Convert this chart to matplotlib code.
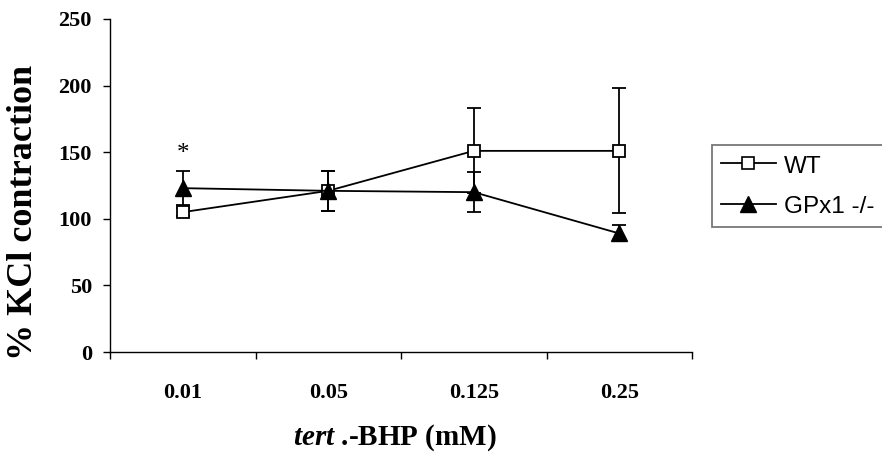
import matplotlib
matplotlib.use("Agg")
import matplotlib.pyplot as plt
from matplotlib.lines import Line2D
import numpy as np

# Data: % KCl contraction vs tert.-BHP concentration
concentrations = ["0.01", "0.05", "0.125", "0.25"]
wt_mean = [105, 121, 151, 151]
wt_err = [3, 15, 32, 47]
gpx_mean = [123, 121, 120, 89]
gpx_err = [13, 15, 15, 6]
y_ticks = [0, 50, 100, 150, 200, 250]

serif = ["Liberation Serif", "DejaVu Serif"]
sans = ["Liberation Sans", "DejaVu Sans"]

plt.rcParams["mathtext.fontset"] = "custom"
plt.rcParams["mathtext.it"] = "Liberation Serif:italic:bold"
plt.rcParams["mathtext.rm"] = "Liberation Serif:bold"
plt.rcParams["mathtext.bf"] = "Liberation Serif:bold"

fig = plt.figure(figsize=(8.82, 4.57), dpi=100)
ax = fig.add_axes([110 / 882, 1 - 352 / 457, (692 - 110) / 882, (352 - 19) / 457])

x = np.arange(len(concentrations))

ax.errorbar(x, wt_mean, yerr=wt_err, color="black", lw=1.3, marker="s",
            markersize=9, markerfacecolor="white", markeredgecolor="black",
            markeredgewidth=1.3, capsize=5, capthick=1.3, elinewidth=1.3,
            zorder=3)
ax.errorbar(x, gpx_mean, yerr=gpx_err, color="black", lw=1.3, marker="^",
            markersize=12, markerfacecolor="black", markeredgecolor="black",
            capsize=5, capthick=1.3, elinewidth=1.3, zorder=3)

# significance marker
ax.text(x[0], gpx_mean[0] + gpx_err[0] + 13, "*", ha="center", va="center",
        fontsize=18, family=serif)

ax.set_xlim(-0.5, len(concentrations) - 0.5)
ax.set_ylim(0, 250)
ax.set_yticks(y_ticks)
ax.set_yticklabels([str(v) for v in y_ticks], family=serif, fontweight="bold",
                   fontsize=16)
ax.set_xticks(x)
ax.set_xticklabels(concentrations, family=serif, fontweight="bold", fontsize=16)
ax.set_xticks(np.arange(-0.5, len(concentrations)), minor=True)
ax.tick_params(axis="x", which="major", length=0, pad=22)
ax.tick_params(axis="x", which="minor", length=5, width=1, direction="out")
ax.tick_params(axis="y", length=5, width=1, direction="out", pad=8)

for side in ("top", "right"):
    ax.spines[side].set_visible(False)
for side in ("left", "bottom"):
    ax.spines[side].set_linewidth(1)

ax.set_ylabel("% KCl contraction", family=serif, fontweight="bold", fontsize=26)
ax.yaxis.set_label_coords(-0.12, 0.42)
ax.set_xlabel(r"$\mathit{tert}$ .-BHP (mM)", family=serif, fontweight="bold",
              fontsize=21)
ax.xaxis.set_label_coords(0.489, -0.212)

handles = [
    Line2D([], [], color="black", lw=1.3, marker="s", markersize=8,
           markerfacecolor="white", markeredgecolor="black", markeredgewidth=1.2),
    Line2D([], [], color="black", lw=1.3, marker="^", markersize=11,
           markerfacecolor="black", markeredgecolor="black"),
]
leg = fig.legend(handles, ["WT", "GPx1 -/-"], loc="upper left",
                 bbox_to_anchor=(712 / 882, 1 - 145 / 457),
                 bbox_transform=fig.transFigure, borderaxespad=0,
                 frameon=True, fancybox=False, edgecolor="#555555",
                 prop={"family": sans, "size": 17.5}, handlelength=2.3,
                 handleheight=1.03, handletextpad=0.3, labelspacing=0.66,
                 borderpad=0.35)
leg.get_frame().set_linewidth(1.3)

fig.savefig("out.png", dpi=100)
